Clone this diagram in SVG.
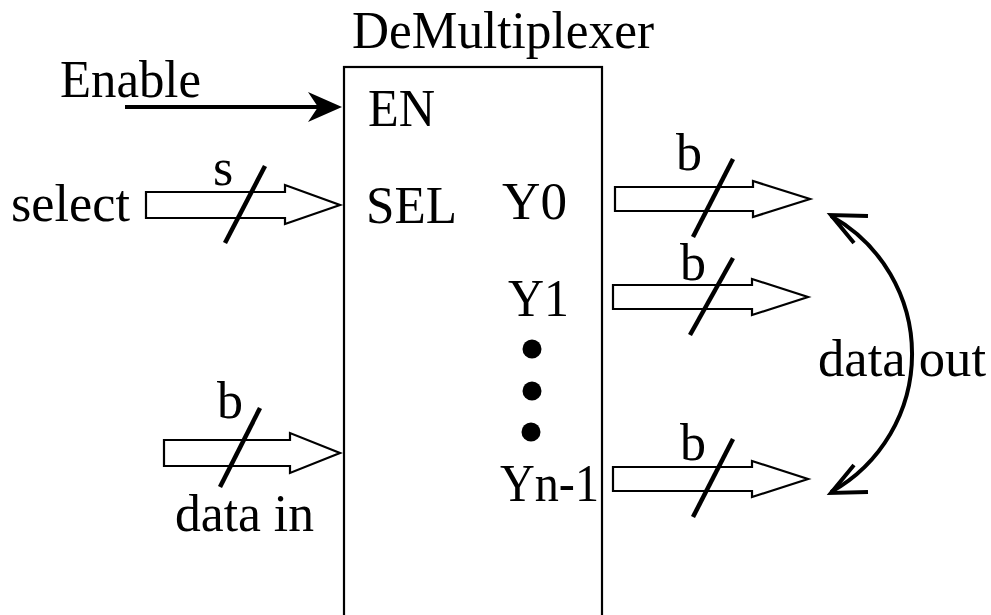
<svg xmlns="http://www.w3.org/2000/svg" width="991" height="615" viewBox="0 0 991 615">
<style>
text{font-family:"Liberation Serif","Times New Roman",serif;font-size:52px;fill:#000}
.fat{fill:#fff;stroke:#000;stroke-width:2.2;stroke-linejoin:miter}
.slash{stroke:#000;stroke-width:4.5;fill:none}
.wire{stroke:#000;stroke-width:4;fill:none}
</style>
<rect width="991" height="615" fill="#fff"/>
<g id="demux">
<rect x="344" y="67" width="258" height="570" fill="#fff" stroke="#000" stroke-width="2.2"/>
<text x="352" y="48" textLength="302" lengthAdjust="spacingAndGlyphs">DeMultiplexer</text>
<text x="368" y="126" textLength="67" lengthAdjust="spacingAndGlyphs">EN</text>
<text x="366" y="223" textLength="91" lengthAdjust="spacingAndGlyphs">SEL</text>
<text x="502" y="219" textLength="65" lengthAdjust="spacingAndGlyphs">Y0</text>
<text x="508" y="316" textLength="61" lengthAdjust="spacingAndGlyphs">Y1</text>
<text x="500" y="501" textLength="99" lengthAdjust="spacingAndGlyphs">Yn-1</text>
<circle cx="532" cy="349" r="9.5"/>
<circle cx="532" cy="391" r="9.5"/>
<circle cx="531" cy="432" r="9.5"/>
</g>
<g id="labels">
<text x="60" y="97" textLength="141" lengthAdjust="spacingAndGlyphs">Enable</text>
<text x="11" y="221" textLength="119" lengthAdjust="spacingAndGlyphs">select</text>
<text x="213" y="185">s</text>
<text x="217" y="418">b</text>
<text x="175" y="531" textLength="139" lengthAdjust="spacingAndGlyphs">data in</text>
<text x="676" y="170">b</text>
<text x="680" y="280">b</text>
<text x="680" y="460">b</text>
<text x="818" y="376" textLength="168" lengthAdjust="spacingAndGlyphs">data out</text>
</g>
<g id="connectors">
<g id="enable">
<line class="wire" x1="125" y1="107" x2="330" y2="107"/>
<path d="M342,107 L308,92 L318,107 L308,122 Z" fill="#000"/>
</g>
<g id="select-bus">
<path class="fat" d="M146,192 H285 V185 L340,205 L285,224 V218 H146 Z"/>
<line class="slash" x1="265" y1="166" x2="225" y2="243"/>
</g>
<g id="datain-bus">
<path class="fat" d="M164,440 H290 V433 L340,453 L290,473 V466 H164 Z"/>
<line class="slash" x1="260" y1="408" x2="220" y2="487"/>
</g>
<g id="y0-bus">
<path class="fat" d="M615,187 H753 V181 L810,199 L753,217 V211 H615 Z"/>
<line class="slash" x1="733" y1="159" x2="693" y2="237"/>
</g>
<g id="y1-bus">
<path class="fat" d="M613,285 H752 V279 L808,297 L752,315 V309 H613 Z"/>
<line class="slash" x1="733" y1="258" x2="690" y2="335"/>
</g>
<g id="yn1-bus">
<path class="fat" d="M613,467 H752 V461 L808,479 L752,497 V491 H613 Z"/>
<line class="slash" x1="733" y1="439" x2="693" y2="517"/>
</g>
<g id="dataout-arc">
<path class="wire" d="M831,216 A158,158 0 0 1 831,492"/>
<path class="wire" d="M868,216 L831,215 L854,243"/>
<path class="wire" d="M868,492 L831,493 L854,465"/>
</g>
</g>
</svg>
